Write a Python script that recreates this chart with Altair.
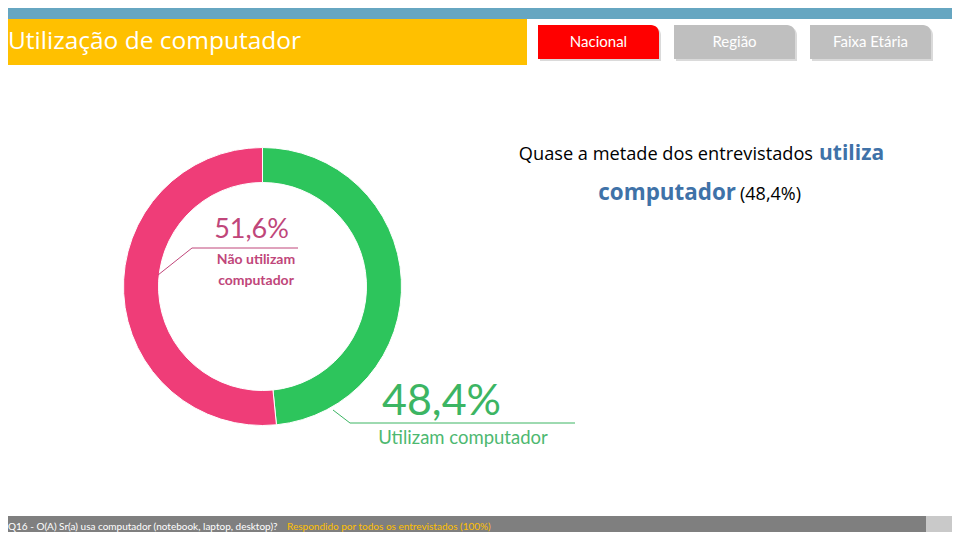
import altair as alt
import pandas as pd

categories = ["Utilizam computador", "Não utilizam computador"]
values = [48.4, 51.6]
colors = ["#2DC55C", "#EF3D78"]

OX, OY = 8, 8  # page margin
W, H = 944, 524


def px(x):
    return min(max(x - OX, 0), W)


def py(y):
    return min(max(y - OY, 0), H)


def fmt(v):
    return f"{v:.1f}%".replace(".", ",")


df = pd.DataFrame({"cat": categories, "value": values, "ord": [0, 1]})

base_rect = alt.Chart(pd.DataFrame({"a": [0]}))


def rect(x1, y1, x2, y2, color, **kw):
    return base_rect.mark_rect(color=color, **kw).encode(
        x=alt.value(px(x1)), x2=alt.value(px(x2)),
        y=alt.value(py(y1)), y2=alt.value(py(y2)))


def text(s, x, y, size, color, align="left", weight="normal", font="Lato", baseline="middle"):
    return base_rect.mark_text(
        text=s, fontSize=size, color=color, align=align, baseline=baseline,
        fontWeight=weight, font=font).encode(x=alt.value(px(x)), y=alt.value(py(y)))


def rule(x1, y1, x2, y2, color):
    return base_rect.mark_rule(color=color, strokeWidth=1).encode(
        x=alt.value(px(x1)), x2=alt.value(px(x2)),
        y=alt.value(py(y1)), y2=alt.value(py(y2)))


layers = []
# header
layers.append(rect(0, 0, 960, 19, "#66A6C1"))
layers.append(rect(0, 19, 527, 65, "#FFC000"))
layers.append(text("Utilização de computador", 8, 42, 24.5, "white", font="Open Sans"))
# buttons
for (x1, x2, lab, col) in [(538, 659, "Nacional", "#FF0000"),
                           (674, 795, "Região", "#BFBFBF"),
                           (810, 931, "Faixa Etária", "#BFBFBF")]:
    layers.append(rect(x1 + 2, 27, x2 + 2, 61, "#DADADA", cornerRadiusTopRight=8))
    layers.append(rect(x1, 25, x2, 59, col, cornerRadiusTopRight=8))
    layers.append(text(lab, (x1 + x2) / 2, 42, 15, "white", align="center"))

# donut
donut = alt.Chart(df).mark_arc(innerRadius=104, outerRadius=139, stroke="white", strokeWidth=1).encode(
    theta=alt.Theta("value:Q", stack=True),
    order=alt.Order("ord:Q"),
    color=alt.Color("cat:N", scale=alt.Scale(domain=categories, range=colors), legend=None),
    x=alt.value(px(262.5)), y=alt.value(py(286.5)),
)
layers.append(donut)

# leader lines
layers.append(rule(158, 275, 192, 248, "#C0467A"))
layers.append(rule(192, 248, 298, 248, "#C0467A"))
layers.append(rule(333, 410, 350, 423, "#3CB563"))
layers.append(rule(350, 423, 575, 423, "#3CB563"))

# labels
layers.append(text(fmt(values[1]), 251.5, 230, 27, "#C0467A", align="center"))
layers.append(text("Não utilizam", 256, 260, 14, "#C0467A", align="center", weight="bold"))
layers.append(text("computador", 256, 281, 14, "#C0467A", align="center", weight="bold"))
layers.append(text(fmt(values[0]), 441.5, 402, 43, "#3CB563", align="center"))
layers.append(text("Utilizam computador", 463, 438, 18.5, "#4DB870", align="center"))

# right annotation
layers.append(text("Quase a metade dos entrevistados", 813, 155, 18.2, "#000000", align="right",
                   font="Open Sans"))
layers.append(text("utiliza", 819, 154, 21, "#3F72A8", weight="bold", font="Open Sans"))
layers.append(text("computador", 736, 193, 22.4, "#3F72A8", align="right", weight="bold", font="Open Sans"))
layers.append(text(f"({fmt(values[0])})", 740, 195, 18, "#000000", font="Open Sans"))

# footer
layers.append(rect(0, 516, 926, 540, "#7F7F7F"))
layers.append(rect(926, 516, 960, 540, "#C9C9C9"))
layers.append(text("Q16 - O(A) Sr(a) usa computador (notebook, laptop, desktop)?", 8, 527, 10, "white",
                   font="Lato"))
layers.append(text("Respondido por todos os entrevistados (100%)", 287, 527, 10, "#FFC000",
                   font="Lato"))

chart = alt.layer(*layers).properties(
    width=W, height=H,
    autosize=alt.AutoSizeParams(type="fit", contains="padding"),
    padding=0,
).configure_view(stroke=None)

chart.save("out.html", embed_options={"renderer": "svg", "actions": False})
